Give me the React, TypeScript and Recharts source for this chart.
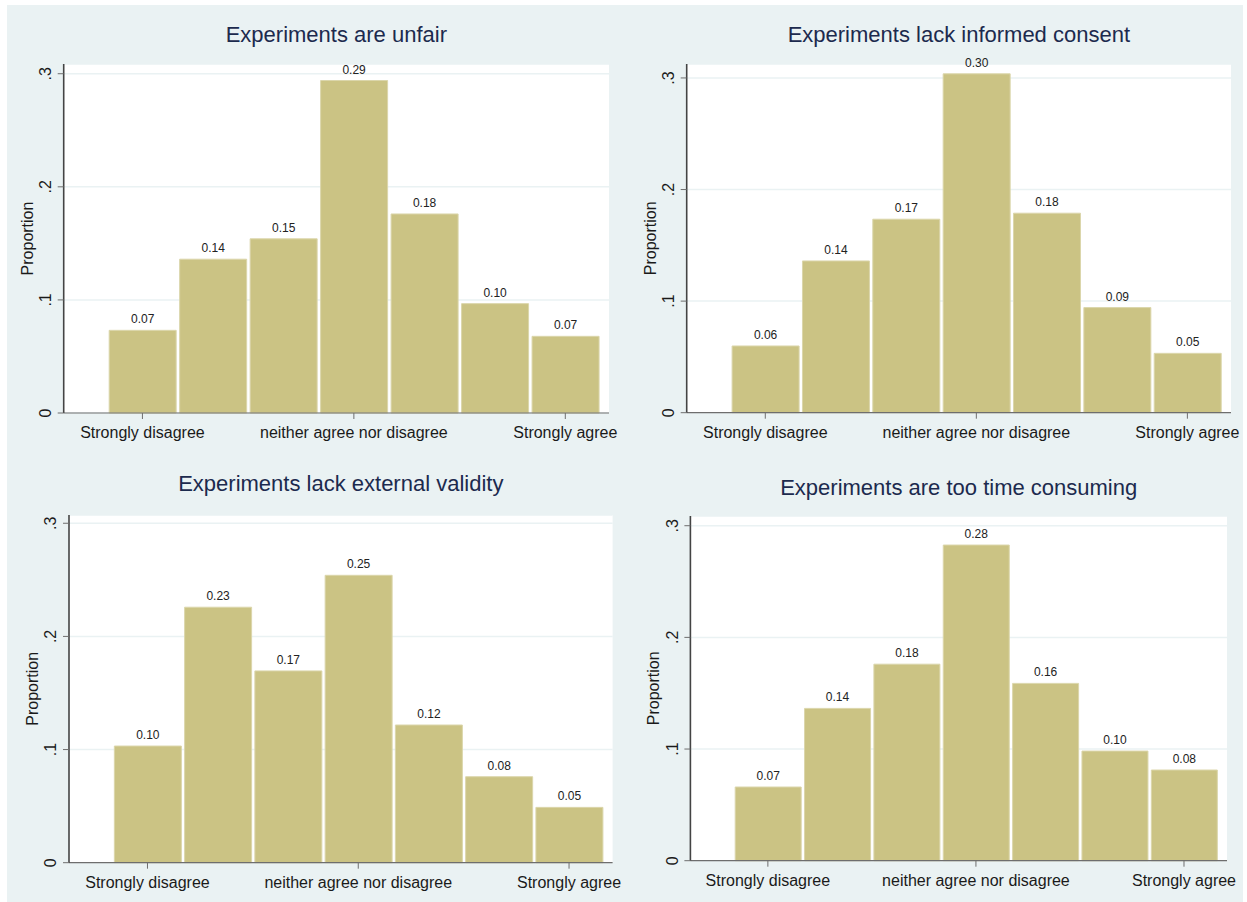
import { BarChart, Bar, XAxis, YAxis, CartesianGrid, LabelList } from "recharts";

// response scale 1..7, only three points are labelled
const scalePoints = [1, 2, 3, 4, 5, 6, 7];
const xTickValues = [1, 4, 7];
const xTickLabels = ["Strongly disagree", "neither agree nor disagree", "Strongly agree"];
const yTickValues = [0, 0.1, 0.2, 0.3];
const yTickLabels = ["0", ".1", ".2", ".3"];

const titles = [
  "Experiments are unfair",
  "Experiments lack informed consent",
  "Experiments lack external validity",
  "Experiments are too time consuming",
];

// proportions
const unfair = [0.0731, 0.136, 0.154, 0.294, 0.176, 0.0967, 0.0678];
const consent = [0.0598, 0.136, 0.1734, 0.3037, 0.1788, 0.0942, 0.0532];
const validity = [0.1031, 0.2258, 0.1695, 0.254, 0.1217, 0.076, 0.0489];
const timeConsuming = [0.066, 0.1364, 0.176, 0.2827, 0.1588, 0.0982, 0.0812];

const series = [unfair, consent, validity, timeConsuming];

const FONT = "Arial, 'Liberation Sans', Helvetica, sans-serif";
const BG = "#eaf2f3";
const BAR = "#cbc384";
const PANEL_W = 618;
const PANEL_H = 448;
const Y_AXIS_W = 40;
const X_AXIS_H = 30;
const X_DOMAIN: [number, number] = [-0.117, 7.62];

// plot box of each panel (panel coordinates)
const layouts = [
  { px: 7, py: 5, left: 56.7, right: 602, top: 59, bottom: 408, yMax: 0.3086, titleY: 30 },
  { px: 625, py: 5, left: 61.7, right: 606, top: 59, bottom: 407.7, yMax: 0.3125, titleY: 30 },
  { px: 7, py: 453, left: 62, right: 605.6, top: 62, bottom: 409.7, yMax: 0.3073, titleY: 31 },
  { px: 625, py: 453, left: 65.4, right: 602, top: 63, bottom: 407.7, yMax: 0.3087, titleY: 35 },
];

const YTick = (props: any) => {
  const { x, y, payload } = props;
  const i = yTickValues.indexOf(payload.value);
  return (
    <text
      x={x}
      y={y}
      transform={`rotate(-90 ${x} ${y})`}
      textAnchor="middle"
      fontSize={16}
      fontFamily={FONT}
      fill="#1a1a1a"
    >
      {i >= 0 ? yTickLabels[i] : payload.value}
    </text>
  );
};

const XTick = (props: any) => {
  const { x, y, payload } = props;
  const i = xTickValues.indexOf(payload.value);
  return (
    <text x={x} y={y} textAnchor="middle" fontSize={16} fontFamily={FONT} fill="#1a1a1a">
      {i >= 0 ? xTickLabels[i] : ""}
    </text>
  );
};

const YTitle = (props: any) => {
  const vb = props.viewBox || {};
  const x = vb.x + vb.width - 31;
  const y = vb.y + vb.height / 2;
  return (
    <text
      x={x}
      y={y}
      transform={`rotate(-90 ${x} ${y})`}
      textAnchor="middle"
      fontSize={16}
      fontFamily={FONT}
      fill="#1a1a1a"
    >
      Proportion
    </text>
  );
};

function Panel({ title, values, layout }: { title: string; values: number[]; layout: (typeof layouts)[number] }) {
  const data = scalePoints.map((p, i) => ({ x: p, value: values[i] }));
  const plotW = layout.right - layout.left;
  const unit = plotW / (X_DOMAIN[1] - X_DOMAIN[0]);
  const margin = {
    top: layout.top,
    right: PANEL_W - layout.right,
    bottom: PANEL_H - layout.bottom - X_AXIS_H,
    left: layout.left - Y_AXIS_W,
  };

  return (
    <div style={{ position: "absolute", left: layout.px, top: layout.py, width: PANEL_W, height: PANEL_H }}>
      <div
        style={{
          position: "absolute",
          left: layout.left,
          width: plotW,
          top: layout.titleY - 13,
          lineHeight: "26px",
          fontSize: 22,
          textAlign: "center",
          color: "#1c2a4e",
          fontFamily: FONT,
          whiteSpace: "nowrap",
        }}
      >
        {title}
      </div>
      <div style={{ position: "absolute", left: 0, top: 0 }}>
        <BarChart width={PANEL_W} height={PANEL_H} data={data} margin={margin}>
          <CartesianGrid vertical={false} stroke={BG} strokeWidth={1.5} fill="#ffffff" />
          <XAxis
            type="number"
            dataKey="x"
            domain={X_DOMAIN}
            ticks={xTickValues}
            interval={0}
            height={X_AXIS_H}
            tickSize={6}
            tickMargin={19}
            tick={<XTick />}
            axisLine={{ stroke: "#6e6e6e", strokeWidth: 1.2 }}
            tickLine={{ stroke: "#6e6e6e" }}
          />
          <YAxis
            type="number"
            domain={[0, layout.yMax]}
            ticks={yTickValues}
            interval={0}
            width={Y_AXIS_W}
            tickSize={6}
            tickMargin={6.5}
            tick={<YTick />}
            axisLine={{ stroke: "#444444", strokeWidth: 1.6 }}
            tickLine={{ stroke: "#6e6e6e" }}
            label={(p: any) => <YTitle {...p} />}
          />
          <Bar
            dataKey="value"
            fill={BAR}
            stroke="#dbd6ab"
            strokeWidth={1}
            barSize={Math.round(unit - 3.5)}
            isAnimationActive={false}
          >
            <LabelList
              dataKey="value"
              position="top"
              offset={7}
              formatter={(v: any) => Number(v).toFixed(2)}
              fontSize={12}
              fontFamily={FONT}
              fill="#222222"
            />
          </Bar>
        </BarChart>
      </div>
    </div>
  );
}

export default function App() {
  return (
    <div style={{ position: "absolute", left: 0, top: 0, width: 1247, height: 902, background: "#ffffff", fontFamily: FONT }}>
      <div style={{ position: "absolute", left: 7, top: 5, width: 1236, height: 897, background: BG }} />
      {layouts.map((layout, i) => (
        <Panel key={i} title={titles[i]} values={series[i]} layout={layout} />
      ))}
    </div>
  );
}
